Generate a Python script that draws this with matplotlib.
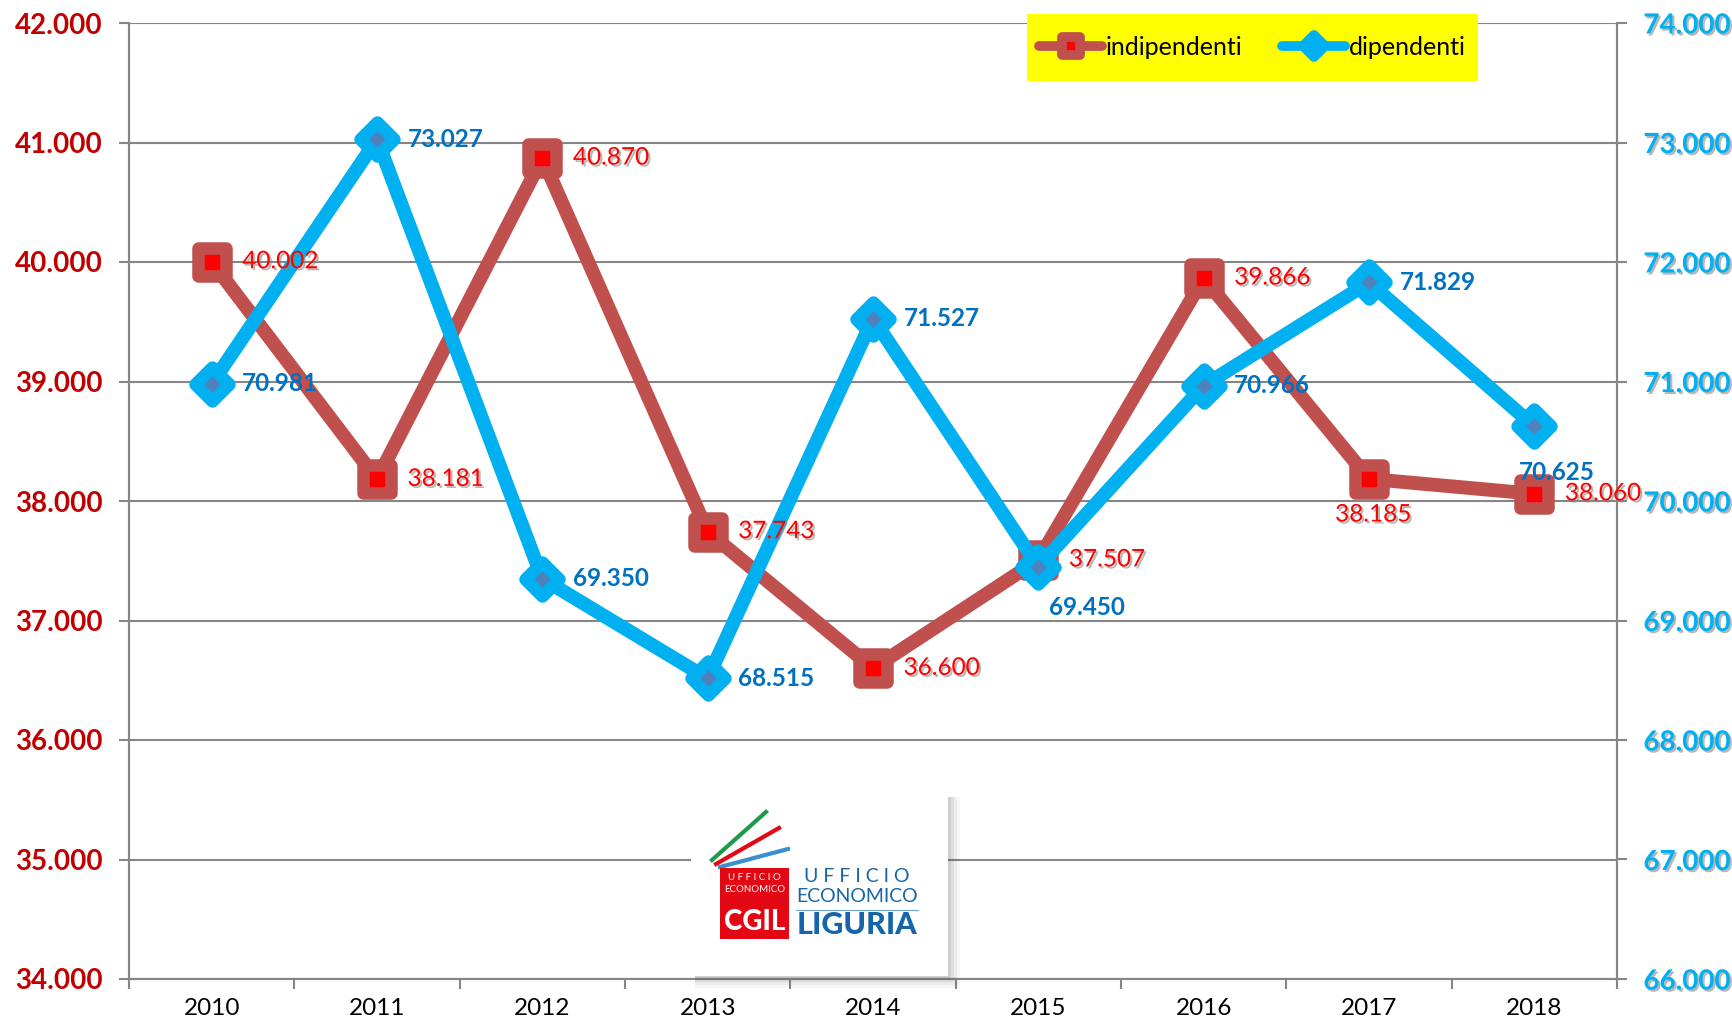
import matplotlib
matplotlib.use("Agg")
import matplotlib.pyplot as plt
import matplotlib.patheffects as pe
from matplotlib.markers import MarkerStyle
from matplotlib.patches import Rectangle
from matplotlib.lines import Line2D
from matplotlib.ticker import FuncFormatter, FixedLocator

W, H = 1733, 1025

years = ['2010', '2011', '2012', '2013', '2014', '2015', '2016', '2017', '2018']
indipendenti = [40002, 38181, 40870, 37743, 36600, 37507, 39866, 38185, 38060]
dipendenti = [70981, 73027, 69350, 68515, 71527, 69450, 70966, 71829, 70625]

# label placement (offset in points) for each point
ind_offsets = [(22, 0), (22, 0), (22, 0), (22, 0), (22, 0), (22, 0), (22, 0), (3, -26), (22, 0)]
ind_align = ['left'] * 7 + ['center', 'left']
dip_offsets = [(22, 0), (22, 0), (22, 0), (22, 0), (22, 0), (8, -29), (22, 0), (22, 0), (16, -33)]
dip_align = ['left'] * 8 + ['center']

RED_LINE = '#C0504D'
BLUE_LINE = '#00B0F0'
GRID = '#868686'
FONT = 'Lato'

plt.rcParams['font.family'] = [FONT, 'DejaVu Sans']


def P(x, y):
    # figure pixel (from top-left) -> figure fraction
    return x / W, 1 - y / H


def thousands(v, pos=None):
    return f'{int(round(v)):,}'.replace(',', '.')


shadow = [pe.SimplePatchShadow(offset=(1.5, -1.5), shadow_rgbFace='#888888', alpha=0.6), pe.Normal()]

fig = plt.figure(figsize=(W / 100, H / 100), dpi=100)
l, b = P(129, 979)
r, t = P(1617, 23)
ax = fig.add_axes([l, b, r - l, t - b])
ax2 = ax.twinx()

x = list(range(len(years)))

sq = MarkerStyle('s', joinstyle='round')
dm = MarkerStyle('D', joinstyle='round')

ax.plot(x, indipendenti, color=RED_LINE, lw=10, marker=sq, ms=20, mew=9,
        mfc='#FF0000', mec=RED_LINE, solid_joinstyle='round', zorder=3)
ax2.plot(x, dipendenti, color=BLUE_LINE, lw=10, marker=dm, ms=17, mew=9,
         mfc='#4F81BD', mec=BLUE_LINE, solid_joinstyle='round', zorder=3)

# all labels live on ax2 so they sit above both lines
for i, v in enumerate(indipendenti):
    ax2.annotate(thousands(v), (x[i], v), xycoords=ax.transData, xytext=ind_offsets[i],
                 textcoords='offset points', ha=ind_align[i], va='center', color='#FF0000',
                 fontsize=17.5, path_effects=shadow, zorder=5)
for i, v in enumerate(dipendenti):
    ax2.annotate(thousands(v), (x[i], v), xytext=dip_offsets[i], textcoords='offset points',
                 ha=dip_align[i], va='center', color='#0070C0', fontsize=17.5,
                 fontweight='bold', zorder=5)

ax.set_xlim(-0.5, len(years) - 0.5)
ax.set_ylim(34000, 42000)
ax2.set_ylim(66000, 74000)
ax.set_yticks(range(34000, 42001, 1000))
ax2.set_yticks(range(66000, 74001, 1000))
ax.yaxis.set_major_formatter(FuncFormatter(thousands))
ax2.yaxis.set_major_formatter(FuncFormatter(thousands))

ax.xaxis.set_major_locator(FixedLocator([i - 0.5 for i in range(len(years) + 1)]))
ax.xaxis.set_major_formatter(FuncFormatter(lambda v, p: ''))
ax.xaxis.set_minor_locator(FixedLocator(x))
ax.set_xticklabels(years, minor=True)
ax.tick_params(axis='x', which='major', length=7, width=1.5, color=GRID, direction='out')
ax.tick_params(axis='x', which='minor', length=0, pad=14, labelsize=17.5, labelcolor='black')

ax.tick_params(axis='y', length=7, width=1.5, color=GRID, direction='out', pad=12,
               labelsize=20, labelcolor='#C00000')
ax2.tick_params(axis='y', length=7, width=1.5, color=GRID, direction='out', pad=12,
                labelsize=20, labelcolor='#00B0F0')
for lab in ax.get_yticklabels():
    lab.set_fontweight('bold')
for lab in ax2.get_yticklabels():
    lab.set_fontweight('bold')
    lab.set_path_effects(shadow)

ax.grid(axis='y', color=GRID, lw=1.5)
ax.set_axisbelow(True)
for a in (ax, ax2):
    a.spines['top'].set_visible(False)
    for s in ('left', 'right', 'bottom'):
        a.spines[s].set_color(GRID)
        a.spines[s].set_linewidth(1.5)

# legend on yellow band
x0, y1 = P(1027, 81)
x1, y0 = P(1478, 14)
fig.patches.append(Rectangle((x0, y1), x1 - x0, y0 - y1, transform=fig.transFigure,
                             facecolor='#FFFF00', edgecolor='none', zorder=4))
handles = [
    Line2D([], [], color=RED_LINE, lw=7, marker=sq, ms=13, mew=7, mfc='#FF0000', mec=RED_LINE,
           solid_capstyle='round'),
    Line2D([], [], color=BLUE_LINE, lw=7, marker=dm, ms=11, mew=7, mfc=BLUE_LINE, mec=BLUE_LINE,
           solid_capstyle='round'),
]
leg = fig.legend(handles, ['indipendenti', 'dipendenti'], loc='center',
                 bbox_to_anchor=((x0 + x1) / 2, (y0 + y1) / 2), ncol=2, frameon=False,
                 fontsize=18, handlelength=2.5, handletextpad=0.15, columnspacing=1.6)
leg.set_zorder(5)

# logo box with soft shadow
for k, al in enumerate([0.04, 0.06, 0.08, 0.10]):
    d = 12 - 3 * k
    sx0, sy1 = P(691 + 4, 976 + d)
    sx1, sy0 = P(948 + d, 795 + 2)
    fig.patches.append(Rectangle((sx0, sy1), sx1 - sx0, sy0 - sy1, transform=fig.transFigure,
                                 facecolor='#404040', edgecolor='none', alpha=al, zorder=6))
lx0, ly1 = P(691, 976)
lx1, ly0 = P(948, 795)
fig.patches.append(Rectangle((lx0, ly1), lx1 - lx0, ly0 - ly1, transform=fig.transFigure,
                             facecolor='white', edgecolor='none', zorder=7))

for (xa, ya, xb, yb, c) in [(712, 860, 766, 812, '#1E9B4A'), (716, 864, 779, 828, '#E30613'),
                             (720, 867, 788, 849, '#3A8FD0')]:
    pa, pb = P(xa, ya), P(xb, yb)
    fig.lines.append(Line2D([pa[0], pb[0]], [pa[1], pb[1]], transform=fig.transFigure,
                            color=c, lw=3, zorder=8))
rx0, ry1 = P(720, 939)
rx1, ry0 = P(789, 868)
fig.patches.append(Rectangle((rx0, ry1), rx1 - rx0, ry0 - ry1, transform=fig.transFigure,
                             facecolor='#E30613', edgecolor='none', zorder=8))
logo_blue = '#1565A8'
fig.text(*P(754.5, 877), 'U F F I C I O', color='white', fontsize=7, ha='center', va='center', zorder=9)
fig.text(*P(754.5, 889), 'ECONOMICO', color='white', fontsize=7, ha='center', va='center', zorder=9)
fig.text(*P(754.5, 922), 'CGIL', color='white', fontsize=20, fontweight='black', ha='center',
         va='center', zorder=9)
fig.text(*P(857, 877), 'U F F I C I O', color=logo_blue, fontsize=14, ha='center', va='center', zorder=9)
fig.text(*P(857, 897), 'ECONOMICO', color=logo_blue, fontsize=14, ha='center', va='center', zorder=9)
pa, pb = P(796, 910), P(918, 910)
fig.lines.append(Line2D([pa[0], pb[0]], [pa[1], pb[1]], transform=fig.transFigure,
                        color='#6FA3D0', lw=0.8, zorder=9))
fig.text(*P(857, 925), 'LIGURIA', color=logo_blue, fontsize=22, fontweight='black', ha='center',
         va='center', zorder=9)

fig.savefig('out.png', dpi=100)
